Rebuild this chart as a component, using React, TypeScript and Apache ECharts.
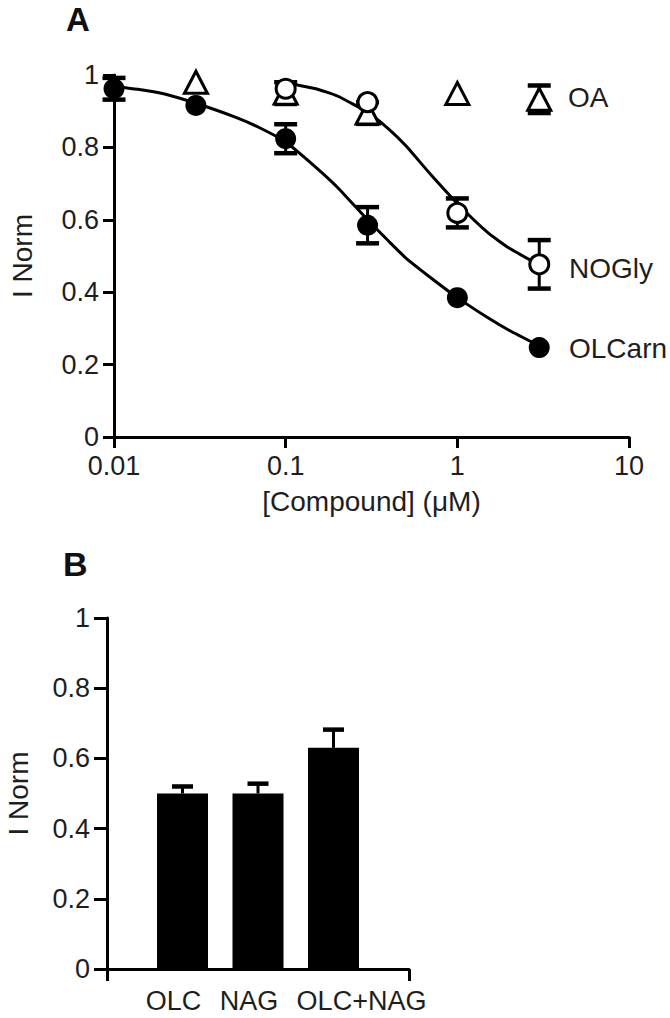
import React, { useEffect, useRef } from "react";
import * as echarts from "echarts";

// ---------- Panel A data ----------
const olcarnConc = [0.01, 0.03, 0.1, 0.3, 1, 3];
const olcarnMean = [0.962, 0.916, 0.824, 0.585, 0.385, 0.247];
const olcarnErr = [0.03, 0, 0.04, 0.05, 0, 0];

const noglyConc = [0.1, 0.3, 1, 3];
const noglyMean = [0.962, 0.925, 0.619, 0.477];
const noglyErr = [0, 0, 0.04, 0.067];

const oaConc = [0.03, 0.1, 0.3, 1, 3];
const oaMean = [0.98, 0.95, 0.895, 0.949, 0.933];
const oaErr = [0, 0.03, 0.03, 0, 0.038];

// fitted curves
const olcarnFitX = [0.01, 0.015, 0.02, 0.03, 0.05, 0.07, 0.1, 0.15, 0.2, 0.3, 0.4, 0.5, 0.7, 1, 1.5, 2, 3];
const olcarnFitY = [0.968, 0.958, 0.947, 0.922, 0.885, 0.855, 0.815, 0.745, 0.69, 0.6, 0.54, 0.495, 0.44, 0.385, 0.33, 0.295, 0.252];
const noglyFitX = [0.1, 0.15, 0.2, 0.3, 0.4, 0.5, 0.7, 1, 1.5, 2, 3];
const noglyFitY = [0.978, 0.962, 0.942, 0.897, 0.85, 0.805, 0.725, 0.645, 0.565, 0.522, 0.475];

const xTickLabelsA = ["0.01", "0.1", "1", "10"];

// ---------- Panel B data ----------
const barCats = ["OLC", "NAG", "OLC+NAG"];
const barMean = [0.5, 0.5, 0.63];
const barErr = [0.02, 0.028, 0.052];

const FONT = "Liberation Sans, Arial, sans-serif";
const TXT = "#1e1e1e";

function makeErr(capW: number, showLow: boolean) {
  return (params: any, api: any) => {
    const x = api.value(0);
    const lo = api.value(1);
    const hi = api.value(2);
    if (hi - lo <= 0) return { type: "group", children: [] };
    const pLo = api.coord([x, lo]);
    const pHi = api.coord([x, hi]);
    const children: any[] = [
      {
        type: "line",
        shape: { x1: pLo[0], y1: pLo[1], x2: pHi[0], y2: pHi[1] },
        style: { stroke: "#000", lineWidth: 3 },
      },
      {
        type: "line",
        shape: { x1: pHi[0] - capW / 2, y1: pHi[1], x2: pHi[0] + capW / 2, y2: pHi[1] },
        style: { stroke: "#000", lineWidth: 4.5 },
      },
    ];
    if (showLow) {
      children.push({
        type: "line",
        shape: { x1: pLo[0] - capW / 2, y1: pLo[1], x2: pLo[0] + capW / 2, y2: pLo[1] },
        style: { stroke: "#000", lineWidth: 4.5 },
      });
    }
    return { type: "group", children };
  };
}

function errData(xs: number[], m: number[], e: number[]) {
  return xs.map((x, i) => [x, m[i] - e[i], m[i] + e[i]]);
}

export default function App() {
  const ref = useRef<HTMLDivElement>(null);
  useEffect(() => {
    if (!ref.current) return;
    const chart = echarts.init(ref.current, null, { renderer: "svg" });

    const axisLine = { show: true, lineStyle: { color: "#000", width: 3 } };

    const option: any = {
      animation: false,
      backgroundColor: "#fff",
      textStyle: { fontFamily: FONT },
      grid: [
        { left: 110, top: 75, width: 519, height: 362, containLabel: false },
        { left: 107, top: 618, width: 302, height: 351, containLabel: false },
      ],
      xAxis: [
        {
          gridIndex: 0,
          type: "log",
          logBase: 10,
          min: 0.01,
          max: 10,
          axisLine,
          axisTick: { show: true, length: 11, lineStyle: { color: "#000", width: 3 } },
          minorTick: { show: false },
          splitLine: { show: false },
          axisLabel: {
            fontSize: 27,
            color: TXT,
            fontFamily: FONT,
            margin: 15,
            formatter: (v: number) => {
              const idx = Math.round(Math.log10(v) + 2);
              return xTickLabelsA[idx] ?? String(v);
            },
          },
          name: "[Compound] (\u03bcM)",
          nameLocation: "middle",
          nameGap: 50,
          nameTextStyle: { fontSize: 28, color: TXT, fontFamily: FONT },
        },
        {
          gridIndex: 1,
          type: "value",
          min: 0,
          max: 4,
          interval: 1,
          axisLine,
          axisTick: {
            show: true,
            length: 12,
            customValues: [0, 4],
            lineStyle: { color: "#000", width: 3 },
          },
          splitLine: { show: false },
          axisLabel: {
            customValues: [1, 2, 3],
            fontSize: 27,
            color: TXT,
            fontFamily: FONT,
            margin: 18,
            formatter: (v: number) => {
              const name = barCats[Math.round(v) - 1] ?? "";
              const style = Math.round(v) === 3 ? "r" : "l";
              return "{" + style + "|" + name + "}";
            },
            rich: {
              l: { fontSize: 27, color: TXT, fontFamily: FONT, padding: [0, 18, 0, 0] },
              r: { fontSize: 27, color: TXT, fontFamily: FONT, padding: [0, 0, 0, 56] },
            },
          },
        },
      ],
      yAxis: [
        {
          gridIndex: 0,
          type: "value",
          min: 0,
          max: 1,
          interval: 0.2,
          axisLine,
          axisTick: { show: true, length: 11, lineStyle: { color: "#000", width: 3 } },
          splitLine: { show: false },
          axisLabel: { fontSize: 27, color: TXT, fontFamily: FONT, margin: 15 },
          name: "I Norm",
          nameLocation: "middle",
          nameGap: 78,
          nameTextStyle: { fontSize: 28, color: TXT, fontFamily: FONT },
        },
        {
          gridIndex: 1,
          type: "value",
          min: 0,
          max: 1,
          interval: 0.2,
          axisLine,
          axisTick: { show: true, length: 13, lineStyle: { color: "#000", width: 3 } },
          splitLine: { show: false },
          axisLabel: { fontSize: 27, color: TXT, fontFamily: FONT, margin: 17 },
          name: "I Norm",
          nameLocation: "middle",
          nameGap: 75,
          nameTextStyle: { fontSize: 28, color: TXT, fontFamily: FONT },
        },
      ],
      series: [
        {
          type: "line",
          xAxisIndex: 0,
          yAxisIndex: 0,
          data: olcarnFitX.map((x, i) => [x, olcarnFitY[i]]),
          smooth: 0.15,
          showSymbol: false,
          symbol: "none",
          lineStyle: { color: "#000", width: 3 },
          z: 2,
        },
        {
          type: "line",
          xAxisIndex: 0,
          yAxisIndex: 0,
          data: noglyFitX.map((x, i) => [x, noglyFitY[i]]),
          smooth: 0.15,
          showSymbol: false,
          symbol: "none",
          lineStyle: { color: "#000", width: 3 },
          z: 2,
        },
        {
          type: "custom",
          xAxisIndex: 0,
          yAxisIndex: 0,
          renderItem: makeErr(23, true),
          encode: { x: 0, y: [1, 2] },
          data: [
            ...errData(olcarnConc, olcarnMean, olcarnErr),
            ...errData(noglyConc, noglyMean, noglyErr),
            ...errData(oaConc, oaMean, oaErr),
          ],
          z: 3,
        },
        {
          type: "scatter",
          name: "OA",
          xAxisIndex: 0,
          yAxisIndex: 0,
          data: oaConc.map((x, i) => [x, oaMean[i]]),
          symbol: "triangle",
          symbolSize: [23, 22],
          itemStyle: { color: "#fff", borderColor: "#000", borderWidth: 3, opacity: 1 },
          z: 4,
        },
        {
          type: "scatter",
          name: "NOGly",
          xAxisIndex: 0,
          yAxisIndex: 0,
          data: noglyConc.map((x, i) => [x, noglyMean[i]]),
          symbol: "circle",
          symbolSize: 19,
          itemStyle: { color: "#fff", borderColor: "#000", borderWidth: 3, opacity: 1 },
          z: 5,
        },
        {
          type: "scatter",
          name: "OLCarn",
          xAxisIndex: 0,
          yAxisIndex: 0,
          data: olcarnConc.map((x, i) => [x, olcarnMean[i]]),
          symbol: "circle",
          symbolSize: 21,
          itemStyle: { color: "#000", opacity: 1 },
          z: 5,
        },
        {
          type: "bar",
          xAxisIndex: 1,
          yAxisIndex: 1,
          data: barMean.map((v, i) => [i + 1, v]),
          barWidth: 51,
          itemStyle: { color: "#000" },
          z: 2,
        },
        {
          type: "custom",
          xAxisIndex: 1,
          yAxisIndex: 1,
          renderItem: makeErr(21, false),
          encode: { x: 0, y: [1, 2] },
          data: barMean.map((v, i) => [i + 1, v, v + barErr[i]]),
          z: 1,
        },
      ],
      graphic: [
        {
          type: "text",
          x: 66,
          y: 3,
          style: {
            text: "A",
            fontSize: 33,
            fontWeight: "bold",
            fill: "#111",
            fontFamily: FONT,
            verticalAlign: "top",
          },
        },
        {
          type: "text",
          x: 63,
          y: 547,
          style: {
            text: "B",
            fontSize: 34,
            fontWeight: "bold",
            fill: "#111",
            fontFamily: FONT,
            verticalAlign: "top",
          },
        },
        {
          type: "text",
          x: 568,
          y: 97,
          style: { text: "OA", fontSize: 28, fill: TXT, fontFamily: FONT, verticalAlign: "middle" },
        },
        {
          type: "text",
          x: 569,
          y: 268,
          style: { text: "NOGly", fontSize: 28, fill: TXT, fontFamily: FONT, verticalAlign: "middle" },
        },
        {
          type: "text",
          x: 569,
          y: 348,
          style: { text: "OLCarn", fontSize: 28, fill: TXT, fontFamily: FONT, verticalAlign: "middle" },
        },
      ],
    };

    chart.setOption(option);
    return () => chart.dispose();
  }, []);

  return (
    <div
      ref={ref}
      style={{ position: "absolute", left: 0, top: 0, width: 670, height: 1018, background: "#fff" }}
    />
  );
}
